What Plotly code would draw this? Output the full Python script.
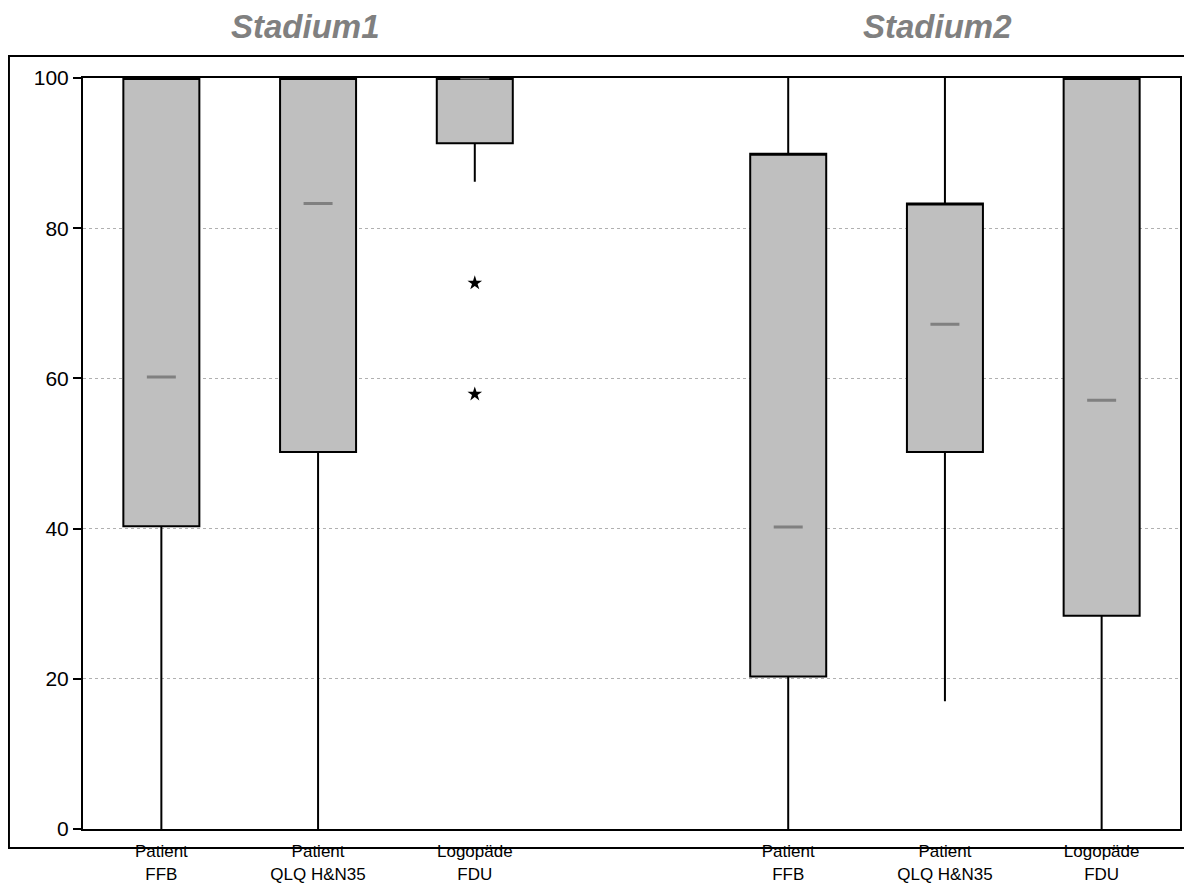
import plotly.graph_objects as go

# ---- data ----
slots = ["s1_ffb", "s1_qlq", "s1_fdu", "gap", "s2_ffb", "s2_qlq", "s2_fdu"]
slot_labels = ["Patient<br>FFB", "Patient<br>QLQ H&N35", "Logopäde<br>FDU", "",
               "Patient<br>FFB", "Patient<br>QLQ H&N35", "Logopäde<br>FDU"]
box_ids = ["s1_ffb", "s1_qlq", "s1_fdu", "s2_ffb", "s2_qlq", "s2_fdu"]
lower = [0, 0, 86.2, 0, 17.0, 0]
q1 = [40.3, 50.2, 91.3, 20.3, 50.2, 28.4]
median = [60.2, 83.3, 100, 40.2, 67.2, 57.1]
q3 = [100, 100, 100, 89.9, 83.3, 100]
upper = [100, 100, 100, 100, 100, 100]
outlier_ids = ["s1_fdu", "s1_fdu"]
outlier_vals = [72.7, 57.9]
group_titles = ["Stadium1", "Stadium2"]
y_ticks = [0, 20, 40, 60, 80, 100]

fig = go.Figure()

# boxes (the box's own median line is hidden on the upper edge; grey median bars drawn below)
fig.add_trace(go.Box(
    x=box_ids, q1=q1, median=q3, q3=q3,
    lowerfence=lower, upperfence=upper,
    fillcolor="#bfbfbf", line=dict(color="black", width=2),
    whiskerwidth=0, width=0.485, boxpoints=False, showlegend=False,
    hoverinfo="skip",
))
# median bars (grey)
fig.add_trace(go.Box(
    x=box_ids, q1=median, median=median, q3=median,
    lowerfence=median, upperfence=median,
    fillcolor="rgba(0,0,0,0)", line=dict(color="#808080", width=3),
    whiskerwidth=0, width=0.185, boxpoints=False, showlegend=False,
    hoverinfo="skip",
))
fig.add_trace(go.Scatter(
    x=outlier_ids, y=outlier_vals, mode="markers",
    marker=dict(symbol="star", size=11, color="black"),
    showlegend=False, hoverinfo="skip",
))

fig.update_layout(
    width=1184, height=876,
    margin=dict(l=75, r=12, t=70, b=55),
    paper_bgcolor="white", plot_bgcolor="white",
    font=dict(family="Liberation Sans, Arial, sans-serif", color="black"),
    boxmode="overlay",
    xaxis=dict(
        type="category", categoryorder="array", categoryarray=slots,
        tickmode="array", tickvals=slots, ticktext=slot_labels,
        range=[-0.5, 6.5], showgrid=False, zeroline=False,
        showline=True, linecolor="black", linewidth=2, mirror=True,
        ticks="", tickfont=dict(size=17), ticklabelstandoff=6,
        automargin=False,
    ),
    yaxis=dict(
        range=[0, 100], tickvals=y_ticks, ticks="outside", ticklen=8,
        tickcolor="black", tickwidth=1.5, tickfont=dict(size=21),
        showgrid=True, gridcolor="#b0b0b0", griddash="dot", gridwidth=1,
        zeroline=False, showline=True, linecolor="black", linewidth=2,
        mirror=True, automargin=False,
    ),
    shapes=[dict(type="rect", xref="paper", yref="paper",
                 x0=-0.0675, x1=1.05, y0=-0.0253, y1=1.0293,
                 line=dict(color="black", width=2), layer="below")],
    annotations=[
        dict(text="<b><i>%s</i></b>" % group_titles[0], x=0.203, y=1.068,
             xref="paper", yref="paper", showarrow=False,
             xanchor="center", yanchor="middle",
             font=dict(size=33, color="#808080")),
        dict(text="<b><i>%s</i></b>" % group_titles[1], x=0.779, y=1.068,
             xref="paper", yref="paper", showarrow=False,
             xanchor="center", yanchor="middle",
             font=dict(size=33, color="#808080")),
    ],
)

fig.write_html("out.html")
